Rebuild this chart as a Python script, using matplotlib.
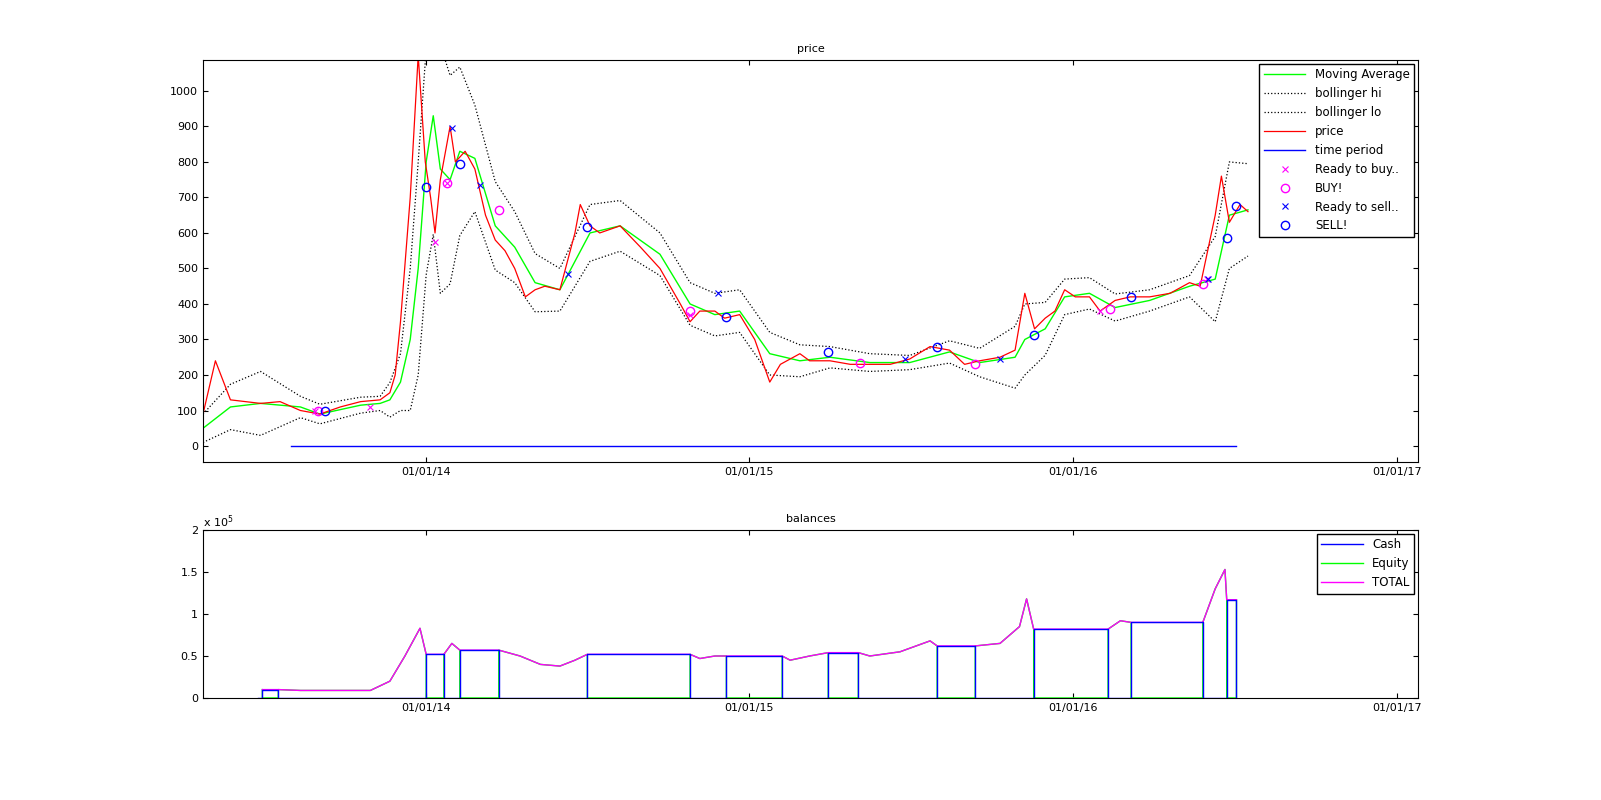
import matplotlib
matplotlib.use("Agg")
import matplotlib.pyplot as plt
import matplotlib.dates as mdates
import numpy as np
import pandas as pd

base = pd.Timestamp("2014-01-01")
price_days = [-252,-238,-221,-187,-165,-142,-120,-97,-74,-52,-41,-35,-29,-18,-9,-1,5,10,16,27,33,44,55,67,78,89,100,112,123,134,151,168,174,185,196,219,242,264,287,298,309,326,337,354,371,388,400,422,433,456,479,501,524,546,569,591,608,625,648,665,676,687,699,710,721,733,749,761,778,795,817,840,862,874,891,898,907,919,928]
price_vals = [90,240,130,120,125,100,90,110,125,130,150,200,350,700,1100,800,700,600,750,900,800,830,780,650,580,550,500,420,440,450,440,600,680,620,600,620,560,500,400,350,380,380,360,370,300,180,230,260,240,240,230,230,230,245,280,270,230,240,250,270,430,330,360,380,440,420,420,380,410,420,420,430,460,450,650,760,630,680,660]

ma_days = [-252,-221,-187,-142,-120,-74,-52,-41,-29,-18,-9,0,8,16,27,38,55,78,100,123,151,168,185,219,264,298,326,354,388,422,456,501,546,591,625,665,676,699,721,749,778,817,862,891,907,928]
ma_vals = [50,110,120,110,90,115,120,130,180,300,500,800,930,780,750,830,810,620,560,460,440,520,600,620,540,400,370,380,260,240,250,235,235,265,235,250,300,330,420,430,390,410,450,470,650,665]
bw_days = [-252,-187,-142,-52,-29,-18,-9,16,55,100,151,185,264,298,388,456,546,625,676,721,817,862,891,907,928]
bw_vals = [40,90,30,20,80,200,300,350,150,100,60,80,60,60,60,30,20,40,100,50,30,30,120,150,130]

rb_days = [-125,-63,10,24,298,761,882]; rb_vals = [100,110,575,740,370,380,470]
buy_days = [-122,23,82,298,490,620,772,877]; buy_vals = [100,740,665,380,235,230,385,455]
rs_days = [29,61,160,330,541,648,883]; rs_vals = [895,735,485,430,245,245,470]
sell_days = [-114,0,38,182,339,454,577,686,796,904,914]; sell_vals = [100,728,795,617,362,265,280,312,420,587,675]
period_days = [-153,915]

cash_start = [-185,0,38,182,339,454,577,686,796,904]
cash_end = [-167,20,82,298,402,488,620,770,877,915]
cash_vals = [10000,52000,57000,52000,50000,54000,62000,82000,90000,117000]

tot_days = [-185,-167,-142,-63,-41,-24,-7,0,20,29,38,82,106,129,151,168,182,298,309,326,339,402,411,433,454,488,501,535,569,577,620,648,670,678,686,770,784,796,877,891,902,904,915]
tot_vals = [10000,10000,9000,9000,20000,50000,83000,52000,52000,65000,57000,57000,50000,40000,38000,45000,52000,52000,47000,50000,50000,50000,45000,50000,54000,54000,50000,55000,68000,62000,62000,65000,85000,118000,82000,82000,92000,90000,90000,130000,153000,117000,117000]

def d(days):
    return [base + pd.Timedelta(days=int(x)) for x in days]

plt.rcParams['font.size'] = 8
fig = plt.figure(figsize=(16.01, 8), dpi=100)
ax1 = fig.add_axes([0.1268, 0.4225, 0.7589, 0.5025])
ax2 = fig.add_axes([0.1268, 0.1275, 0.7589, 0.21])

ma = np.array(ma_vals, float)
bw = np.interp(ma_days, bw_days, bw_vals)
ax1.plot(d(ma_days), ma, color="#00ff00", lw=1, label="Moving Average")
ax1.plot(d(ma_days), ma + bw, color="k", ls=":", lw=0.9, label="bollinger hi")
ax1.plot(d(ma_days), ma - bw, color="k", ls=":", lw=0.9, label="bollinger lo")
ax1.plot(d(price_days), price_vals, color="red", lw=0.9, label="price")
ax1.plot(d(period_days), [0, 0], color="blue", lw=1, label="time period")
ax1.plot(d(rb_days), rb_vals, "x", color="magenta", ms=4, mew=0.8, label="Ready to buy..")
ax1.plot(d(buy_days), buy_vals, "o", mfc="none", mec="magenta", ms=6, label="BUY!")
ax1.plot(d(rs_days), rs_vals, "x", color="blue", ms=4, mew=0.8, label="Ready to sell..")
ax1.plot(d(sell_days), sell_vals, "o", mfc="none", mec="blue", ms=6, label="SELL!")
ax1.set_ylim(-45, 1087)
ax1.set_yticks(range(0, 1001, 100))
ax1.set_title("price", fontsize=8)
ax1.legend(loc="upper right", fontsize=8.5, fancybox=False, edgecolor="k", framealpha=1,
           handlelength=3.5, numpoints=1, borderaxespad=0.3)

# balances
cash_x = [base + pd.Timedelta(days=-190)]; cash_y = [0]
for a, b, v in zip(cash_start, cash_end, cash_vals):
    cash_x += d([a, a, b, b]); cash_y += [0, v, v, 0]
cash_x.append(base + pd.Timedelta(days=915)); cash_y.append(0)

eq_d, eq_v = [], []
for t, v in zip(tot_days, tot_vals):
    inside = any(a < t < b for a, b in zip(cash_start, cash_end))
    if inside:
        continue
    if t in cash_start and t in cash_end:
        eq_d += [t, t]; eq_v += [0, 0]
    elif t in cash_start:
        eq_d += [t, t]; eq_v += [v, 0]
    elif t in cash_end:
        eq_d += [t, t]; eq_v += [0, v]
    else:
        eq_d.append(t); eq_v.append(v)

l_eq, = ax2.plot(d(eq_d), eq_v, color="#00ff00", lw=1)
l_tot, = ax2.plot(d(tot_days), tot_vals, color="magenta", lw=1)
l_cash, = ax2.plot(cash_x, cash_y, color="blue", lw=1)
ax2.legend([l_cash, l_eq, l_tot], ["Cash", "Equity", "TOTAL"], loc="upper right", fontsize=8.5,
           fancybox=False, edgecolor="k", framealpha=1, handlelength=3.5, borderaxespad=0.3)
ax2.set_ylim(0, 2e5)
ax2.set_yticks([0, 5e4, 1e5, 1.5e5, 2e5])
ax2.set_yticklabels(["0", "0.5", "1", "1.5", "2"])
ax2.text(0, 1.02, r"x 10$^5$", transform=ax2.transAxes, fontsize=8)
ax2.set_title("balances", fontsize=8)

for ax in (ax1, ax2):
    ax.set_xlim(base + pd.Timedelta(days=-252), base + pd.Timedelta(days=1120))
    ax.xaxis.set_major_locator(mdates.YearLocator())
    ax.xaxis.set_major_formatter(mdates.DateFormatter("%m/%d/%y"))
    ax.tick_params(direction="in", top=True, right=True, labelsize=8)

fig.savefig("out.png", dpi=100)
